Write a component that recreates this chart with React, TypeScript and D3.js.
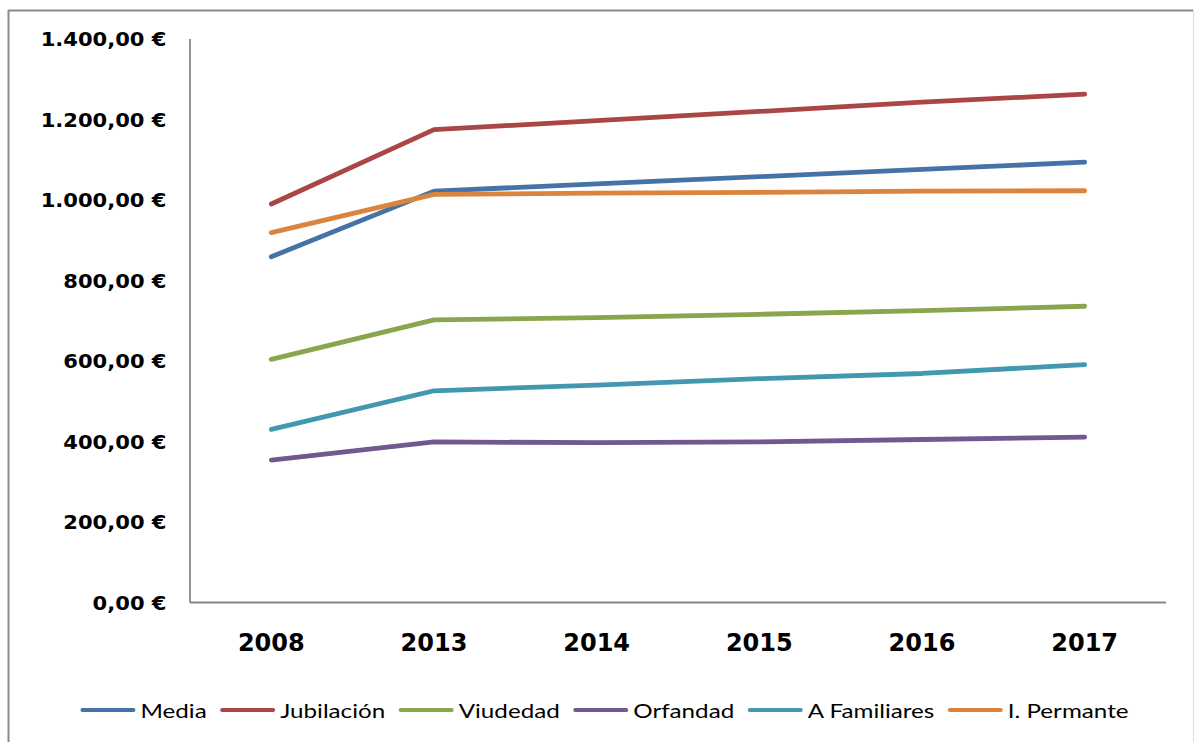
import React, { useLayoutEffect, useRef, useState } from 'react';
import * as d3 from 'd3';

const categories = ['2008', '2013', '2014', '2015', '2016', '2017'];
const seriesNames = ['Media', 'Jubilación', 'Viudedad', 'Orfandad', 'A Familiares', 'I. Permante'];
const media = [859, 1022, 1040, 1058, 1076, 1094];
const jubilacion = [990, 1175, 1197, 1220, 1243, 1263];
const viudedad = [604, 702, 708, 716, 725, 736];
const orfandad = [354, 399, 397, 399, 405, 411];
const aFamiliares = [430, 526, 540, 556, 569, 591];
const iPermante = [919, 1014, 1017, 1019, 1022, 1023];
const seriesValues = [media, jubilacion, viudedad, orfandad, aFamiliares, iPermante];
const seriesColors = ['#4572A7', '#AA4643', '#89A54E', '#71588F', '#4198AF', '#DB843D'];
const yTicks = [0, 200, 400, 600, 800, 1000, 1200, 1400];

const W = 1194;
const H = 742;
const PLOT = { left: 190, right: 1166, top: 39, bottom: 602.5 };
const Y_FS = 19.5;
const Y_SX = 1.08;
const LEG_SX = 1.21;
const LEG_FS = 20;
const LEG_Y = 710;
const LEG_LINE = 55;
const LEG_GAP = 5;
const LEG_ITEM_GAP = 13.5;
const LEG_CENTER = 604.5;

function formatEuro(v: number): string {
  const s = d3.format(',.2f')(v);
  return s.replace(/,/g, '#').replace('.', ',').replace(/#/g, '.') + ' €';
}

export default function App() {
  const x = d3.scalePoint<string>().domain(categories).range([PLOT.left, PLOT.right]).padding(0.5);
  const y = d3.scaleLinear().domain([0, 1400]).range([PLOT.bottom, PLOT.top]);
  const line = d3
    .line<number>()
    .x((_, i) => x(categories[i]) as number)
    .y((d) => y(d));

  const textRefs = useRef<(SVGTextElement | null)[]>([]);
  const [widths, setWidths] = useState<number[]>(seriesNames.map((n) => n.length * 11 * LEG_SX));

  useLayoutEffect(() => {
    const w = textRefs.current.map((t) => (t ? t.getComputedTextLength() * LEG_SX : 0));
    setWidths(w);
  }, []);

  const itemWidths = widths.map((w) => LEG_LINE + LEG_GAP + w);
  const total = d3.sum(itemWidths) + LEG_ITEM_GAP * (itemWidths.length - 1);
  let cursor = LEG_CENTER - total / 2;
  const legendX = itemWidths.map((w) => {
    const s = cursor;
    cursor += w + LEG_ITEM_GAP;
    return s;
  });

  return (
    <svg
      width={W}
      height={H}
      style={{ position: 'absolute', left: 0, top: 0, display: 'block', background: '#fff' }}
    >
      <rect x={0} y={0} width={W} height={H} fill="#fff" />
      {/* chart border */}
      <line x1={8.5} y1={10} x2={8.5} y2={H} stroke="#8a8a8a" strokeWidth={2} />
      <line x1={8} y1={10.5} x2={1193} y2={10.5} stroke="#8a8a8a" strokeWidth={2} />
      <line x1={1193.5} y1={10} x2={1193.5} y2={H} stroke="#dcdcdc" strokeWidth={1} />

      {/* axes */}
      <line x1={PLOT.left} y1={PLOT.top} x2={PLOT.left} y2={PLOT.bottom} stroke="#868686" strokeWidth={1.8} />
      <line x1={PLOT.left} y1={PLOT.bottom} x2={PLOT.right} y2={PLOT.bottom} stroke="#868686" strokeWidth={2} />

      {/* y tick labels */}
      {yTicks.map((t) => (
        <text
          key={t}
          transform={`translate(166.5, ${y(t) + Y_FS * 0.36}) scale(${Y_SX},1)`}
          textAnchor="end"
          fontFamily="'DejaVu Sans', Verdana, sans-serif"
          fontWeight="bold"
          fontSize={Y_FS}
          fill="#000"
        >
          {formatEuro(t)}
        </text>
      ))}

      {/* x labels */}
      {categories.map((c) => (
        <text
          key={c}
          x={x(c) as number}
          y={651}
          textAnchor="middle"
          fontFamily="'DejaVu Sans', Verdana, sans-serif"
          fontWeight="bold"
          fontSize={24}
          fill="#000"
        >
          {c}
        </text>
      ))}

      {/* series */}
      {seriesValues.map((vals, i) => (
        <path
          key={seriesNames[i]}
          d={line(vals) as string}
          fill="none"
          stroke={seriesColors[i]}
          strokeWidth={4.8}
          strokeLinecap="round"
          strokeLinejoin="round"
        />
      ))}

      {/* legend */}
      {seriesNames.map((n, i) => (
        <g key={n}>
          <line
            x1={legendX[i] + 2}
            y1={LEG_Y}
            x2={legendX[i] + LEG_LINE - 2}
            y2={LEG_Y}
            stroke={seriesColors[i]}
            strokeWidth={4}
            strokeLinecap="round"
          />
          <text
            ref={(el) => {
              textRefs.current[i] = el;
            }}
            transform={`translate(${legendX[i] + LEG_LINE + LEG_GAP}, 717.5) scale(${LEG_SX},1)`}
            fontFamily="Lato, 'Open Sans', sans-serif"
            fontSize={LEG_FS}
            fill="#000"
          >
            {n}
          </text>
        </g>
      ))}
    </svg>
  );
}
